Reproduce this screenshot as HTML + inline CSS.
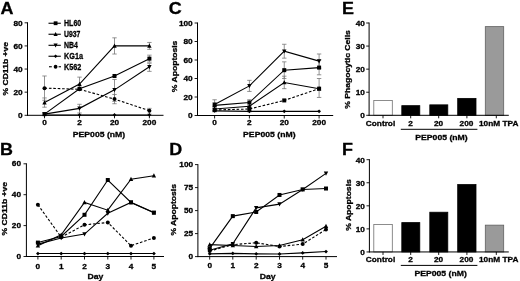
<!DOCTYPE html><html><head><meta charset="utf-8"><style>html,body{margin:0;padding:0;background:#fff}svg{display:block}</style></head><body><svg width="520" height="281" viewBox="0 0 520 281" font-family="Liberation Sans, Arial, sans-serif" font-weight="bold" fill="#000">
<defs><filter id="soft" x="0" y="0" width="520" height="281" filterUnits="userSpaceOnUse"><feGaussianBlur stdDeviation="0.35"/></filter></defs>
<rect width="520" height="281" fill="#fff"/>
<g filter="url(#soft)"><style>text{stroke:#000;stroke-width:0.3px}</style>
<text transform="translate(0.60,13.80) scale(1.10,1)" font-size="16.3" text-anchor="start">A</text>
<line x1="27.50" y1="22.30" x2="27.50" y2="115.80" stroke="#000" stroke-width="1.0" />
<line x1="27.00" y1="115.30" x2="163.50" y2="115.30" stroke="#000" stroke-width="1.0" />
<line x1="24.60" y1="115.30" x2="27.50" y2="115.30" stroke="#000" stroke-width="0.9" />
<text transform="translate(22.70,118.00) scale(1.09,1)" font-size="7.6" text-anchor="end">0</text>
<line x1="24.60" y1="92.17" x2="27.50" y2="92.17" stroke="#000" stroke-width="0.9" />
<text transform="translate(22.70,94.88) scale(1.09,1)" font-size="7.6" text-anchor="end">20</text>
<line x1="24.60" y1="69.05" x2="27.50" y2="69.05" stroke="#000" stroke-width="0.9" />
<text transform="translate(22.70,71.75) scale(1.09,1)" font-size="7.6" text-anchor="end">40</text>
<line x1="24.60" y1="45.92" x2="27.50" y2="45.92" stroke="#000" stroke-width="0.9" />
<text transform="translate(22.70,48.62) scale(1.09,1)" font-size="7.6" text-anchor="end">60</text>
<line x1="24.60" y1="22.80" x2="27.50" y2="22.80" stroke="#000" stroke-width="0.9" />
<text transform="translate(22.70,25.50) scale(1.09,1)" font-size="7.6" text-anchor="end">80</text>
<line x1="44.50" y1="115.30" x2="44.50" y2="118.30" stroke="#000" stroke-width="0.9" />
<line x1="79.50" y1="115.30" x2="79.50" y2="118.30" stroke="#000" stroke-width="0.9" />
<line x1="114.50" y1="115.30" x2="114.50" y2="118.30" stroke="#000" stroke-width="0.9" />
<line x1="149.40" y1="115.30" x2="149.40" y2="118.30" stroke="#000" stroke-width="0.9" />
<text transform="translate(44.50,125.00) scale(1.09,1)" font-size="7.6" text-anchor="middle">0</text>
<text transform="translate(79.50,125.00) scale(1.09,1)" font-size="7.6" text-anchor="middle">2</text>
<text transform="translate(114.50,125.00) scale(1.09,1)" font-size="7.6" text-anchor="middle">20</text>
<text transform="translate(149.40,125.00) scale(1.09,1)" font-size="7.6" text-anchor="middle">200</text>
<text transform="translate(8.00,68.75) rotate(-90) scale(1.1,1)" font-size="7.8" text-anchor="middle">% CD11b +ve</text>
<text transform="translate(99.00,137.30) scale(1.07,1)" font-size="8.1" text-anchor="middle">PEP005 (nM)</text>
<line x1="44.50" y1="75.99" x2="44.50" y2="100.27" stroke="#777" stroke-width="0.8" />
<line x1="42.30" y1="75.99" x2="46.70" y2="75.99" stroke="#777" stroke-width="0.8" />
<line x1="42.30" y1="100.27" x2="46.70" y2="100.27" stroke="#777" stroke-width="0.8" />
<line x1="44.50" y1="97.96" x2="44.50" y2="107.21" stroke="#777" stroke-width="0.8" />
<line x1="42.30" y1="97.96" x2="46.70" y2="97.96" stroke="#777" stroke-width="0.8" />
<line x1="42.30" y1="107.21" x2="46.70" y2="107.21" stroke="#777" stroke-width="0.8" />
<line x1="79.50" y1="77.14" x2="79.50" y2="89.86" stroke="#777" stroke-width="0.8" />
<line x1="77.30" y1="77.14" x2="81.70" y2="77.14" stroke="#777" stroke-width="0.8" />
<line x1="77.30" y1="89.86" x2="81.70" y2="89.86" stroke="#777" stroke-width="0.8" />
<line x1="79.50" y1="104.32" x2="79.50" y2="112.99" stroke="#777" stroke-width="0.8" />
<line x1="77.30" y1="104.32" x2="81.70" y2="104.32" stroke="#777" stroke-width="0.8" />
<line x1="77.30" y1="112.99" x2="81.70" y2="112.99" stroke="#777" stroke-width="0.8" />
<line x1="114.50" y1="37.83" x2="114.50" y2="54.02" stroke="#777" stroke-width="0.8" />
<line x1="112.30" y1="37.83" x2="116.70" y2="37.83" stroke="#777" stroke-width="0.8" />
<line x1="112.30" y1="54.02" x2="116.70" y2="54.02" stroke="#777" stroke-width="0.8" />
<line x1="114.50" y1="79.46" x2="114.50" y2="101.42" stroke="#777" stroke-width="0.8" />
<line x1="112.30" y1="79.46" x2="116.70" y2="79.46" stroke="#777" stroke-width="0.8" />
<line x1="112.30" y1="101.42" x2="116.70" y2="101.42" stroke="#777" stroke-width="0.8" />
<line x1="114.50" y1="94.49" x2="114.50" y2="103.74" stroke="#777" stroke-width="0.8" />
<line x1="112.30" y1="94.49" x2="116.70" y2="94.49" stroke="#777" stroke-width="0.8" />
<line x1="112.30" y1="103.74" x2="116.70" y2="103.74" stroke="#777" stroke-width="0.8" />
<line x1="149.40" y1="42.46" x2="149.40" y2="49.39" stroke="#777" stroke-width="0.8" />
<line x1="147.20" y1="42.46" x2="151.60" y2="42.46" stroke="#777" stroke-width="0.8" />
<line x1="147.20" y1="49.39" x2="151.60" y2="49.39" stroke="#777" stroke-width="0.8" />
<line x1="149.40" y1="55.17" x2="149.40" y2="62.11" stroke="#777" stroke-width="0.8" />
<line x1="147.20" y1="55.17" x2="151.60" y2="55.17" stroke="#777" stroke-width="0.8" />
<line x1="147.20" y1="62.11" x2="151.60" y2="62.11" stroke="#777" stroke-width="0.8" />
<line x1="149.40" y1="63.27" x2="149.40" y2="71.36" stroke="#777" stroke-width="0.8" />
<line x1="147.20" y1="63.27" x2="151.60" y2="63.27" stroke="#777" stroke-width="0.8" />
<line x1="147.20" y1="71.36" x2="151.60" y2="71.36" stroke="#777" stroke-width="0.8" />
<line x1="149.40" y1="108.36" x2="149.40" y2="114.14" stroke="#777" stroke-width="0.8" />
<line x1="147.20" y1="108.36" x2="151.60" y2="108.36" stroke="#777" stroke-width="0.8" />
<line x1="147.20" y1="114.14" x2="151.60" y2="114.14" stroke="#777" stroke-width="0.8" />
<polyline points="44.50,114.95 79.50,114.95 114.50,114.95 149.40,114.95" fill="none" stroke="#000" stroke-width="1.1"/>
<path d="M44.50,113.05 L46.40,114.95 L44.50,116.85 L42.60,114.95Z" fill="#000"/>
<path d="M79.50,113.05 L81.40,114.95 L79.50,116.85 L77.60,114.95Z" fill="#000"/>
<path d="M114.50,113.05 L116.40,114.95 L114.50,116.85 L112.60,114.95Z" fill="#000"/>
<path d="M149.40,113.05 L151.30,114.95 L149.40,116.85 L147.50,114.95Z" fill="#000"/>
<polyline points="44.50,88.13 79.50,89.28 114.50,99.11 149.40,110.67" fill="none" stroke="#000" stroke-width="1.1" stroke-dasharray="2.6,1.8"/>
<circle cx="44.50" cy="88.13" r="2.00" fill="#000"/>
<circle cx="79.50" cy="89.28" r="2.00" fill="#000"/>
<circle cx="114.50" cy="99.11" r="2.00" fill="#000"/>
<circle cx="149.40" cy="110.67" r="2.00" fill="#000"/>
<polyline points="44.50,114.14 79.50,108.36 114.50,89.86 149.40,66.74" fill="none" stroke="#000" stroke-width="1.1"/>
<path d="M44.50,116.54 L46.70,112.34 L42.30,112.34Z" fill="#000"/>
<path d="M79.50,110.76 L81.70,106.56 L77.30,106.56Z" fill="#000"/>
<path d="M114.50,92.26 L116.70,88.06 L112.30,88.06Z" fill="#000"/>
<path d="M149.40,69.14 L151.60,64.94 L147.20,64.94Z" fill="#000"/>
<polyline points="44.50,114.14 79.50,88.71 114.50,75.99 149.40,58.64" fill="none" stroke="#000" stroke-width="1.1"/>
<rect x="42.50" y="112.14" width="4.00" height="4.00" fill="#000"/>
<rect x="77.50" y="86.71" width="4.00" height="4.00" fill="#000"/>
<rect x="112.50" y="73.99" width="4.00" height="4.00" fill="#000"/>
<rect x="147.40" y="56.64" width="4.00" height="4.00" fill="#000"/>
<polyline points="44.50,102.58 79.50,84.08 114.50,45.92 149.40,45.92" fill="none" stroke="#000" stroke-width="1.1"/>
<path d="M44.50,100.18 L46.70,104.38 L42.30,104.38Z" fill="#000"/>
<path d="M79.50,81.68 L81.70,85.88 L77.30,85.88Z" fill="#000"/>
<path d="M114.50,43.52 L116.70,47.72 L112.30,47.72Z" fill="#000"/>
<path d="M149.40,43.52 L151.60,47.72 L147.20,47.72Z" fill="#000"/>
<line x1="48.50" y1="23.25" x2="60.80" y2="23.25" stroke="#000" stroke-width="1.1" />
<rect x="53.70" y="21.35" width="3.80" height="3.80" fill="#000"/>
<text x="64.00" y="26.25" font-size="9.0" text-anchor="start" textLength="17.3" lengthAdjust="spacingAndGlyphs">HL60</text>
<line x1="48.50" y1="34.25" x2="60.80" y2="34.25" stroke="#000" stroke-width="1.1" />
<path d="M55.60,31.95 L57.70,35.95 L53.50,35.95Z" fill="#000"/>
<text x="64.00" y="37.25" font-size="9.0" text-anchor="start" textLength="16.4" lengthAdjust="spacingAndGlyphs">U937</text>
<line x1="48.50" y1="45.30" x2="60.80" y2="45.30" stroke="#000" stroke-width="1.1" />
<path d="M55.60,47.60 L57.70,43.60 L53.50,43.60Z" fill="#000"/>
<text x="64.00" y="48.30" font-size="9.0" text-anchor="start" textLength="13.9" lengthAdjust="spacingAndGlyphs">NB4</text>
<line x1="48.50" y1="56.25" x2="60.80" y2="56.25" stroke="#000" stroke-width="1.1" />
<path d="M55.60,54.45 L57.41,56.25 L55.60,58.05 L53.80,56.25Z" fill="#000"/>
<text x="64.00" y="59.25" font-size="9.0" text-anchor="start" textLength="19.0" lengthAdjust="spacingAndGlyphs">KG1a</text>
<line x1="49.00" y1="66.75" x2="51.80" y2="66.75" stroke="#000" stroke-width="1.1" />
<line x1="58.60" y1="66.75" x2="61.00" y2="66.75" stroke="#000" stroke-width="1.1" />
<circle cx="55.60" cy="66.75" r="1.90" fill="#000"/>
<text x="64.00" y="69.75" font-size="9.0" text-anchor="start" textLength="17.3" lengthAdjust="spacingAndGlyphs">K562</text>
<text transform="translate(-0.10,154.70) scale(1.10,1)" font-size="16.3" text-anchor="start">B</text>
<line x1="26.40" y1="163.30" x2="26.40" y2="257.00" stroke="#000" stroke-width="1.0" />
<line x1="25.90" y1="256.50" x2="164.00" y2="256.50" stroke="#000" stroke-width="1.0" />
<line x1="23.50" y1="256.50" x2="26.40" y2="256.50" stroke="#000" stroke-width="0.9" />
<text transform="translate(21.00,259.05) scale(1.09,1)" font-size="7.6" text-anchor="end">0</text>
<line x1="23.50" y1="225.60" x2="26.40" y2="225.60" stroke="#000" stroke-width="0.9" />
<text transform="translate(21.00,228.15) scale(1.09,1)" font-size="7.6" text-anchor="end">20</text>
<line x1="23.50" y1="194.70" x2="26.40" y2="194.70" stroke="#000" stroke-width="0.9" />
<text transform="translate(21.00,197.25) scale(1.09,1)" font-size="7.6" text-anchor="end">40</text>
<line x1="23.50" y1="163.80" x2="26.40" y2="163.80" stroke="#000" stroke-width="0.9" />
<text transform="translate(21.00,166.35) scale(1.09,1)" font-size="7.6" text-anchor="end">60</text>
<line x1="37.90" y1="256.50" x2="37.90" y2="259.50" stroke="#000" stroke-width="0.9" />
<line x1="61.20" y1="256.50" x2="61.20" y2="259.50" stroke="#000" stroke-width="0.9" />
<line x1="84.50" y1="256.50" x2="84.50" y2="259.50" stroke="#000" stroke-width="0.9" />
<line x1="107.80" y1="256.50" x2="107.80" y2="259.50" stroke="#000" stroke-width="0.9" />
<line x1="131.00" y1="256.50" x2="131.00" y2="259.50" stroke="#000" stroke-width="0.9" />
<line x1="153.90" y1="256.50" x2="153.90" y2="259.50" stroke="#000" stroke-width="0.9" />
<text transform="translate(37.90,268.50) scale(1.09,1)" font-size="7.6" text-anchor="middle">0</text>
<text transform="translate(61.20,268.50) scale(1.09,1)" font-size="7.6" text-anchor="middle">1</text>
<text transform="translate(84.50,268.50) scale(1.09,1)" font-size="7.6" text-anchor="middle">2</text>
<text transform="translate(107.80,268.50) scale(1.09,1)" font-size="7.6" text-anchor="middle">3</text>
<text transform="translate(131.00,268.50) scale(1.09,1)" font-size="7.6" text-anchor="middle">4</text>
<text transform="translate(153.90,268.50) scale(1.09,1)" font-size="7.6" text-anchor="middle">5</text>
<text transform="translate(7.00,208.70) rotate(-90) scale(1.1,1)" font-size="7.8" text-anchor="middle">% CD11b +ve</text>
<text transform="translate(95.50,279.00) scale(1.07,1)" font-size="8.1" text-anchor="middle">Day</text>
<polyline points="37.90,253.56 61.20,253.56 84.50,253.56 107.80,253.56 131.00,253.56 153.90,253.56" fill="none" stroke="#000" stroke-width="1.1"/>
<path d="M37.90,251.66 L39.80,253.56 L37.90,255.46 L36.00,253.56Z" fill="#000"/>
<path d="M61.20,251.66 L63.10,253.56 L61.20,255.46 L59.30,253.56Z" fill="#000"/>
<path d="M84.50,251.66 L86.40,253.56 L84.50,255.46 L82.60,253.56Z" fill="#000"/>
<path d="M107.80,251.66 L109.70,253.56 L107.80,255.46 L105.90,253.56Z" fill="#000"/>
<path d="M131.00,251.66 L132.90,253.56 L131.00,255.46 L129.10,253.56Z" fill="#000"/>
<path d="M153.90,251.66 L155.80,253.56 L153.90,255.46 L152.00,253.56Z" fill="#000"/>
<polyline points="37.90,204.74 61.20,237.19 84.50,224.83 107.80,222.51 131.00,245.69 153.90,237.96" fill="none" stroke="#000" stroke-width="1.1" stroke-dasharray="2.6,1.8"/>
<circle cx="37.90" cy="204.74" r="2.00" fill="#000"/>
<circle cx="61.20" cy="237.19" r="2.00" fill="#000"/>
<circle cx="84.50" cy="224.83" r="2.00" fill="#000"/>
<circle cx="107.80" cy="222.51" r="2.00" fill="#000"/>
<circle cx="131.00" cy="245.69" r="2.00" fill="#000"/>
<circle cx="153.90" cy="237.96" r="2.00" fill="#000"/>
<polyline points="37.90,244.14 61.20,237.96 84.50,234.10 107.80,213.24 131.00,202.43 153.90,212.47" fill="none" stroke="#000" stroke-width="1.1"/>
<path d="M37.90,246.54 L40.10,242.34 L35.70,242.34Z" fill="#000"/>
<path d="M61.20,240.36 L63.40,236.16 L59.00,236.16Z" fill="#000"/>
<path d="M84.50,236.50 L86.70,232.30 L82.30,232.30Z" fill="#000"/>
<path d="M107.80,215.64 L110.00,211.44 L105.60,211.44Z" fill="#000"/>
<path d="M131.00,204.83 L133.20,200.62 L128.80,200.62Z" fill="#000"/>
<path d="M153.90,214.87 L156.10,210.67 L151.70,210.67Z" fill="#000"/>
<polyline points="37.90,245.69 61.20,234.87 84.50,202.43 107.80,210.15 131.00,179.25 153.90,175.70" fill="none" stroke="#000" stroke-width="1.1"/>
<path d="M37.90,243.28 L40.10,247.49 L35.70,247.49Z" fill="#000"/>
<path d="M61.20,232.47 L63.40,236.67 L59.00,236.67Z" fill="#000"/>
<path d="M84.50,200.03 L86.70,204.23 L82.30,204.23Z" fill="#000"/>
<path d="M107.80,207.75 L110.00,211.95 L105.60,211.95Z" fill="#000"/>
<path d="M131.00,176.85 L133.20,181.05 L128.80,181.05Z" fill="#000"/>
<path d="M153.90,173.30 L156.10,177.50 L151.70,177.50Z" fill="#000"/>
<polyline points="37.90,242.59 61.20,236.41 84.50,214.79 107.80,180.02 131.00,202.43 153.90,212.78" fill="none" stroke="#000" stroke-width="1.1"/>
<rect x="35.90" y="240.59" width="4.00" height="4.00" fill="#000"/>
<rect x="59.20" y="234.41" width="4.00" height="4.00" fill="#000"/>
<rect x="82.50" y="212.79" width="4.00" height="4.00" fill="#000"/>
<rect x="105.80" y="178.02" width="4.00" height="4.00" fill="#000"/>
<rect x="129.00" y="200.43" width="4.00" height="4.00" fill="#000"/>
<rect x="151.90" y="210.78" width="4.00" height="4.00" fill="#000"/>
<text transform="translate(168.70,14.20) scale(1.10,1)" font-size="16.3" text-anchor="start">C</text>
<line x1="197.50" y1="22.50" x2="197.50" y2="116.00" stroke="#000" stroke-width="1.0" />
<line x1="197.00" y1="115.50" x2="333.20" y2="115.50" stroke="#000" stroke-width="1.0" />
<line x1="194.60" y1="115.50" x2="197.50" y2="115.50" stroke="#000" stroke-width="0.9" />
<text transform="translate(192.70,118.25) scale(1.09,1)" font-size="7.6" text-anchor="end">0</text>
<line x1="194.60" y1="97.00" x2="197.50" y2="97.00" stroke="#000" stroke-width="0.9" />
<text transform="translate(192.70,99.75) scale(1.09,1)" font-size="7.6" text-anchor="end">20</text>
<line x1="194.60" y1="78.50" x2="197.50" y2="78.50" stroke="#000" stroke-width="0.9" />
<text transform="translate(192.70,81.25) scale(1.09,1)" font-size="7.6" text-anchor="end">40</text>
<line x1="194.60" y1="60.00" x2="197.50" y2="60.00" stroke="#000" stroke-width="0.9" />
<text transform="translate(192.70,62.75) scale(1.09,1)" font-size="7.6" text-anchor="end">60</text>
<line x1="194.60" y1="41.50" x2="197.50" y2="41.50" stroke="#000" stroke-width="0.9" />
<text transform="translate(192.70,44.25) scale(1.09,1)" font-size="7.6" text-anchor="end">80</text>
<line x1="194.60" y1="23.00" x2="197.50" y2="23.00" stroke="#000" stroke-width="0.9" />
<text transform="translate(192.70,25.75) scale(1.09,1)" font-size="7.6" text-anchor="end">100</text>
<line x1="214.60" y1="115.50" x2="214.60" y2="118.50" stroke="#000" stroke-width="0.9" />
<line x1="249.40" y1="115.50" x2="249.40" y2="118.50" stroke="#000" stroke-width="0.9" />
<line x1="284.25" y1="115.50" x2="284.25" y2="118.50" stroke="#000" stroke-width="0.9" />
<line x1="319.10" y1="115.50" x2="319.10" y2="118.50" stroke="#000" stroke-width="0.9" />
<text transform="translate(214.60,125.00) scale(1.09,1)" font-size="7.6" text-anchor="middle">0</text>
<text transform="translate(249.40,125.00) scale(1.09,1)" font-size="7.6" text-anchor="middle">2</text>
<text transform="translate(284.25,125.00) scale(1.09,1)" font-size="7.6" text-anchor="middle">20</text>
<text transform="translate(319.10,125.00) scale(1.09,1)" font-size="7.6" text-anchor="middle">200</text>
<text transform="translate(176.90,66.40) rotate(-90) scale(1.1,1)" font-size="7.8" text-anchor="middle">% Apoptosis</text>
<text transform="translate(269.30,137.10) scale(1.07,1)" font-size="8.1" text-anchor="middle">PEP005 (nM)</text>
<line x1="214.60" y1="99.78" x2="214.60" y2="108.10" stroke="#777" stroke-width="0.8" />
<line x1="212.40" y1="99.78" x2="216.80" y2="99.78" stroke="#777" stroke-width="0.8" />
<line x1="212.40" y1="108.10" x2="216.80" y2="108.10" stroke="#777" stroke-width="0.8" />
<line x1="214.60" y1="106.25" x2="214.60" y2="111.80" stroke="#777" stroke-width="0.8" />
<line x1="212.40" y1="106.25" x2="216.80" y2="106.25" stroke="#777" stroke-width="0.8" />
<line x1="212.40" y1="111.80" x2="216.80" y2="111.80" stroke="#777" stroke-width="0.8" />
<line x1="249.40" y1="80.35" x2="249.40" y2="91.45" stroke="#777" stroke-width="0.8" />
<line x1="247.20" y1="80.35" x2="251.60" y2="80.35" stroke="#777" stroke-width="0.8" />
<line x1="247.20" y1="91.45" x2="251.60" y2="91.45" stroke="#777" stroke-width="0.8" />
<line x1="249.40" y1="99.78" x2="249.40" y2="105.33" stroke="#777" stroke-width="0.8" />
<line x1="247.20" y1="99.78" x2="251.60" y2="99.78" stroke="#777" stroke-width="0.8" />
<line x1="247.20" y1="105.33" x2="251.60" y2="105.33" stroke="#777" stroke-width="0.8" />
<line x1="249.40" y1="106.25" x2="249.40" y2="111.80" stroke="#777" stroke-width="0.8" />
<line x1="247.20" y1="106.25" x2="251.60" y2="106.25" stroke="#777" stroke-width="0.8" />
<line x1="247.20" y1="111.80" x2="251.60" y2="111.80" stroke="#777" stroke-width="0.8" />
<line x1="284.25" y1="44.27" x2="284.25" y2="58.15" stroke="#777" stroke-width="0.8" />
<line x1="282.05" y1="44.27" x2="286.45" y2="44.27" stroke="#777" stroke-width="0.8" />
<line x1="282.05" y1="58.15" x2="286.45" y2="58.15" stroke="#777" stroke-width="0.8" />
<line x1="284.25" y1="61.85" x2="284.25" y2="78.50" stroke="#777" stroke-width="0.8" />
<line x1="282.05" y1="61.85" x2="286.45" y2="61.85" stroke="#777" stroke-width="0.8" />
<line x1="282.05" y1="78.50" x2="286.45" y2="78.50" stroke="#777" stroke-width="0.8" />
<line x1="284.25" y1="76.19" x2="284.25" y2="88.67" stroke="#777" stroke-width="0.8" />
<line x1="282.05" y1="76.19" x2="286.45" y2="76.19" stroke="#777" stroke-width="0.8" />
<line x1="282.05" y1="88.67" x2="286.45" y2="88.67" stroke="#777" stroke-width="0.8" />
<line x1="319.10" y1="53.99" x2="319.10" y2="68.32" stroke="#777" stroke-width="0.8" />
<line x1="316.90" y1="53.99" x2="321.30" y2="53.99" stroke="#777" stroke-width="0.8" />
<line x1="316.90" y1="68.32" x2="321.30" y2="68.32" stroke="#777" stroke-width="0.8" />
<line x1="319.10" y1="60.00" x2="319.10" y2="74.80" stroke="#777" stroke-width="0.8" />
<line x1="316.90" y1="60.00" x2="321.30" y2="60.00" stroke="#777" stroke-width="0.8" />
<line x1="316.90" y1="74.80" x2="321.30" y2="74.80" stroke="#777" stroke-width="0.8" />
<line x1="319.10" y1="78.50" x2="319.10" y2="97.46" stroke="#777" stroke-width="0.8" />
<line x1="316.90" y1="78.50" x2="321.30" y2="78.50" stroke="#777" stroke-width="0.8" />
<line x1="316.90" y1="97.46" x2="321.30" y2="97.46" stroke="#777" stroke-width="0.8" />
<polyline points="214.60,110.88 249.40,111.34 284.25,111.34 319.10,111.34" fill="none" stroke="#000" stroke-width="1.1"/>
<path d="M214.60,108.97 L216.50,110.88 L214.60,112.78 L212.70,110.88Z" fill="#000"/>
<path d="M249.40,109.44 L251.30,111.34 L249.40,113.24 L247.50,111.34Z" fill="#000"/>
<path d="M284.25,109.44 L286.15,111.34 L284.25,113.24 L282.35,111.34Z" fill="#000"/>
<path d="M319.10,109.44 L321.00,111.34 L319.10,113.24 L317.20,111.34Z" fill="#000"/>
<polyline points="214.60,109.03 249.40,106.25 284.25,82.57 319.10,88.67" fill="none" stroke="#000" stroke-width="1.1"/>
<path d="M214.60,106.62 L216.80,110.83 L212.40,110.83Z" fill="#000"/>
<path d="M249.40,103.85 L251.60,108.05 L247.20,108.05Z" fill="#000"/>
<path d="M284.25,80.17 L286.45,84.37 L282.05,84.37Z" fill="#000"/>
<path d="M319.10,86.27 L321.30,90.47 L316.90,90.47Z" fill="#000"/>
<polyline points="214.60,109.95 249.40,109.03 284.25,100.42 319.10,88.67" fill="none" stroke="#000" stroke-width="1.1" stroke-dasharray="2.6,1.8"/>
<rect x="212.60" y="107.95" width="4.00" height="4.00" fill="#000"/>
<rect x="247.40" y="107.03" width="4.00" height="4.00" fill="#000"/>
<rect x="282.25" y="98.42" width="4.00" height="4.00" fill="#000"/>
<rect x="317.10" y="86.67" width="4.00" height="4.00" fill="#000"/>
<polyline points="214.60,105.33 249.40,102.55 284.25,70.17 319.10,67.59" fill="none" stroke="#000" stroke-width="1.1"/>
<rect x="212.60" y="103.33" width="4.00" height="4.00" fill="#000"/>
<rect x="247.40" y="100.55" width="4.00" height="4.00" fill="#000"/>
<rect x="282.25" y="68.17" width="4.00" height="4.00" fill="#000"/>
<rect x="317.10" y="65.59" width="4.00" height="4.00" fill="#000"/>
<polyline points="214.60,104.40 249.40,85.90 284.25,51.21 319.10,61.11" fill="none" stroke="#000" stroke-width="1.1"/>
<path d="M214.60,106.80 L216.80,102.60 L212.40,102.60Z" fill="#000"/>
<path d="M249.40,88.30 L251.60,84.10 L247.20,84.10Z" fill="#000"/>
<path d="M284.25,53.61 L286.45,49.41 L282.05,49.41Z" fill="#000"/>
<path d="M319.10,63.51 L321.30,59.31 L316.90,59.31Z" fill="#000"/>
<text transform="translate(169.20,154.90) scale(1.10,1)" font-size="16.3" text-anchor="start">D</text>
<line x1="197.90" y1="164.10" x2="197.90" y2="257.10" stroke="#000" stroke-width="1.0" />
<line x1="197.40" y1="256.60" x2="337.00" y2="256.60" stroke="#000" stroke-width="1.0" />
<line x1="195.00" y1="256.60" x2="197.90" y2="256.60" stroke="#000" stroke-width="0.9" />
<text transform="translate(193.10,259.35) scale(1.09,1)" font-size="7.6" text-anchor="end">0</text>
<line x1="195.00" y1="233.60" x2="197.90" y2="233.60" stroke="#000" stroke-width="0.9" />
<text transform="translate(193.10,236.35) scale(1.09,1)" font-size="7.6" text-anchor="end">25</text>
<line x1="195.00" y1="210.60" x2="197.90" y2="210.60" stroke="#000" stroke-width="0.9" />
<text transform="translate(193.10,213.35) scale(1.09,1)" font-size="7.6" text-anchor="end">50</text>
<line x1="195.00" y1="187.60" x2="197.90" y2="187.60" stroke="#000" stroke-width="0.9" />
<text transform="translate(193.10,190.35) scale(1.09,1)" font-size="7.6" text-anchor="end">75</text>
<line x1="195.00" y1="164.60" x2="197.90" y2="164.60" stroke="#000" stroke-width="0.9" />
<text transform="translate(193.10,167.35) scale(1.09,1)" font-size="7.6" text-anchor="end">100</text>
<line x1="209.70" y1="256.60" x2="209.70" y2="259.60" stroke="#000" stroke-width="0.9" />
<line x1="232.80" y1="256.60" x2="232.80" y2="259.60" stroke="#000" stroke-width="0.9" />
<line x1="256.20" y1="256.60" x2="256.20" y2="259.60" stroke="#000" stroke-width="0.9" />
<line x1="279.50" y1="256.60" x2="279.50" y2="259.60" stroke="#000" stroke-width="0.9" />
<line x1="302.70" y1="256.60" x2="302.70" y2="259.60" stroke="#000" stroke-width="0.9" />
<line x1="326.00" y1="256.60" x2="326.00" y2="259.60" stroke="#000" stroke-width="0.9" />
<text transform="translate(209.70,268.20) scale(1.09,1)" font-size="7.6" text-anchor="middle">0</text>
<text transform="translate(232.80,268.20) scale(1.09,1)" font-size="7.6" text-anchor="middle">1</text>
<text transform="translate(256.20,268.20) scale(1.09,1)" font-size="7.6" text-anchor="middle">2</text>
<text transform="translate(279.50,268.20) scale(1.09,1)" font-size="7.6" text-anchor="middle">3</text>
<text transform="translate(302.70,268.20) scale(1.09,1)" font-size="7.6" text-anchor="middle">4</text>
<text transform="translate(326.00,268.20) scale(1.09,1)" font-size="7.6" text-anchor="middle">5</text>
<text transform="translate(175.70,209.80) rotate(-90) scale(1.1,1)" font-size="7.8" text-anchor="middle">% Apoptosis</text>
<text transform="translate(267.70,278.60) scale(1.07,1)" font-size="8.1" text-anchor="middle">Day</text>
<polyline points="209.70,253.84 232.80,253.38 256.20,253.84 279.50,254.02 302.70,252.92 326.00,251.54" fill="none" stroke="#000" stroke-width="1.1"/>
<path d="M209.70,251.94 L211.60,253.84 L209.70,255.74 L207.80,253.84Z" fill="#000"/>
<path d="M232.80,251.48 L234.70,253.38 L232.80,255.28 L230.90,253.38Z" fill="#000"/>
<path d="M256.20,251.94 L258.10,253.84 L256.20,255.74 L254.30,253.84Z" fill="#000"/>
<path d="M279.50,252.12 L281.40,254.02 L279.50,255.92 L277.60,254.02Z" fill="#000"/>
<path d="M302.70,251.02 L304.60,252.92 L302.70,254.82 L300.80,252.92Z" fill="#000"/>
<path d="M326.00,249.64 L327.90,251.54 L326.00,253.44 L324.10,251.54Z" fill="#000"/>
<polyline points="209.70,251.08 232.80,244.64 256.20,242.80 279.50,246.48 302.70,244.09 326.00,229.46" fill="none" stroke="#000" stroke-width="1.1" stroke-dasharray="2.6,1.8"/>
<circle cx="209.70" cy="251.08" r="2.00" fill="#000"/>
<circle cx="232.80" cy="244.64" r="2.00" fill="#000"/>
<circle cx="256.20" cy="242.80" r="2.00" fill="#000"/>
<circle cx="279.50" cy="246.48" r="2.00" fill="#000"/>
<circle cx="302.70" cy="244.09" r="2.00" fill="#000"/>
<circle cx="326.00" cy="229.46" r="2.00" fill="#000"/>
<polyline points="209.70,244.64 232.80,245.56 256.20,246.48 279.50,245.56 302.70,239.76 326.00,226.24" fill="none" stroke="#000" stroke-width="1.1"/>
<path d="M209.70,242.24 L211.90,246.44 L207.50,246.44Z" fill="#000"/>
<path d="M232.80,243.16 L235.00,247.36 L230.60,247.36Z" fill="#000"/>
<path d="M256.20,244.08 L258.40,248.28 L254.00,248.28Z" fill="#000"/>
<path d="M279.50,243.16 L281.70,247.36 L277.30,247.36Z" fill="#000"/>
<path d="M302.70,237.36 L304.90,241.56 L300.50,241.56Z" fill="#000"/>
<path d="M326.00,223.84 L328.20,228.04 L323.80,228.04Z" fill="#000"/>
<polyline points="209.70,248.32 232.80,216.12 256.20,211.98 279.50,194.96 302.70,189.44 326.00,188.52" fill="none" stroke="#000" stroke-width="1.1"/>
<rect x="207.70" y="246.32" width="4.00" height="4.00" fill="#000"/>
<rect x="230.80" y="214.12" width="4.00" height="4.00" fill="#000"/>
<rect x="254.20" y="209.98" width="4.00" height="4.00" fill="#000"/>
<rect x="277.50" y="192.96" width="4.00" height="4.00" fill="#000"/>
<rect x="300.70" y="187.44" width="4.00" height="4.00" fill="#000"/>
<rect x="324.00" y="186.52" width="4.00" height="4.00" fill="#000"/>
<polyline points="209.70,250.16 232.80,243.72 256.20,207.84 279.50,204.16 302.70,189.44 326.00,173.34" fill="none" stroke="#000" stroke-width="1.1"/>
<path d="M209.70,252.56 L211.90,248.36 L207.50,248.36Z" fill="#000"/>
<path d="M232.80,246.12 L235.00,241.92 L230.60,241.92Z" fill="#000"/>
<path d="M256.20,210.24 L258.40,206.04 L254.00,206.04Z" fill="#000"/>
<path d="M279.50,206.56 L281.70,202.36 L277.30,202.36Z" fill="#000"/>
<path d="M302.70,191.84 L304.90,187.64 L300.50,187.64Z" fill="#000"/>
<path d="M326.00,175.74 L328.20,171.54 L323.80,171.54Z" fill="#000"/>
<text transform="translate(341.90,13.50) scale(1.10,1)" font-size="16.3" text-anchor="start">E</text>
<rect x="373.80" y="100.47" width="18.50" height="14.83" fill="#fff" stroke="#707070" stroke-width="0.8"/>
<rect x="401.80" y="105.66" width="18.00" height="9.64" fill="#000" stroke="#000" stroke-width="0.8"/>
<rect x="429.80" y="104.85" width="18.00" height="10.45" fill="#000" stroke="#000" stroke-width="0.8"/>
<rect x="457.70" y="98.39" width="18.30" height="16.91" fill="#000" stroke="#000" stroke-width="0.8"/>
<rect x="485.30" y="26.63" width="18.40" height="88.67" fill="#9a9a9a" stroke="#606060" stroke-width="0.8"/>
<line x1="369.10" y1="22.50" x2="369.10" y2="115.80" stroke="#000" stroke-width="1.0" />
<line x1="368.60" y1="115.30" x2="508.80" y2="115.30" stroke="#000" stroke-width="1.0" />
<line x1="366.20" y1="115.30" x2="369.10" y2="115.30" stroke="#000" stroke-width="0.9" />
<text transform="translate(364.90,117.90) scale(1.09,1)" font-size="7.6" text-anchor="end">0</text>
<line x1="366.20" y1="92.22" x2="369.10" y2="92.22" stroke="#000" stroke-width="0.9" />
<text transform="translate(364.90,94.82) scale(1.09,1)" font-size="7.6" text-anchor="end">10</text>
<line x1="366.20" y1="69.15" x2="369.10" y2="69.15" stroke="#000" stroke-width="0.9" />
<text transform="translate(364.90,71.75) scale(1.09,1)" font-size="7.6" text-anchor="end">20</text>
<line x1="366.20" y1="46.07" x2="369.10" y2="46.07" stroke="#000" stroke-width="0.9" />
<text transform="translate(364.90,48.67) scale(1.09,1)" font-size="7.6" text-anchor="end">30</text>
<line x1="366.20" y1="23.00" x2="369.10" y2="23.00" stroke="#000" stroke-width="0.9" />
<text transform="translate(364.90,25.60) scale(1.09,1)" font-size="7.6" text-anchor="end">40</text>
<line x1="383.00" y1="115.30" x2="383.00" y2="118.30" stroke="#000" stroke-width="0.9" />
<line x1="410.70" y1="115.30" x2="410.70" y2="118.30" stroke="#000" stroke-width="0.9" />
<line x1="438.70" y1="115.30" x2="438.70" y2="118.30" stroke="#000" stroke-width="0.9" />
<line x1="466.90" y1="115.30" x2="466.90" y2="118.30" stroke="#000" stroke-width="0.9" />
<line x1="496.30" y1="115.30" x2="496.30" y2="118.30" stroke="#000" stroke-width="0.9" />
<text transform="translate(380.50,125.90) scale(1.09,1)" font-size="7.6" text-anchor="middle">Control</text>
<text transform="translate(410.50,125.90) scale(1.09,1)" font-size="7.6" text-anchor="middle">2</text>
<text transform="translate(438.50,125.90) scale(1.09,1)" font-size="7.6" text-anchor="middle">20</text>
<text transform="translate(466.50,125.90) scale(1.09,1)" font-size="7.6" text-anchor="middle">200</text>
<text transform="translate(498.70,125.90) scale(1.09,1)" font-size="7.6" text-anchor="middle">10nM TPA</text>
<line x1="400.80" y1="129.30" x2="477.40" y2="129.30" stroke="#000" stroke-width="1.0" />
<text transform="translate(441.50,139.60) scale(1.07,1)" font-size="8.1" text-anchor="middle">PEP005 (nM)</text>
<text transform="translate(350.00,69.50) rotate(-90) scale(1.1,1)" font-size="7.8" text-anchor="middle">% Phagocytic Cells</text>
<text transform="translate(341.90,154.90) scale(1.10,1)" font-size="16.3" text-anchor="start">F</text>
<rect x="373.80" y="224.44" width="18.50" height="27.51" fill="#fff" stroke="#707070" stroke-width="0.8"/>
<rect x="401.80" y="222.60" width="18.00" height="29.35" fill="#000" stroke="#000" stroke-width="0.8"/>
<rect x="429.80" y="212.22" width="18.00" height="39.73" fill="#000" stroke="#000" stroke-width="0.8"/>
<rect x="457.70" y="184.55" width="18.30" height="67.40" fill="#000" stroke="#000" stroke-width="0.8"/>
<rect x="485.30" y="225.14" width="18.40" height="26.81" fill="#9a9a9a" stroke="#606060" stroke-width="0.8"/>
<line x1="369.40" y1="159.20" x2="369.40" y2="252.45" stroke="#000" stroke-width="1.0" />
<line x1="368.90" y1="251.95" x2="508.80" y2="251.95" stroke="#000" stroke-width="1.0" />
<line x1="366.50" y1="251.95" x2="369.40" y2="251.95" stroke="#000" stroke-width="0.9" />
<text transform="translate(364.90,254.80) scale(1.09,1)" font-size="7.6" text-anchor="end">0</text>
<line x1="366.50" y1="228.89" x2="369.40" y2="228.89" stroke="#000" stroke-width="0.9" />
<text transform="translate(364.90,231.74) scale(1.09,1)" font-size="7.6" text-anchor="end">10</text>
<line x1="366.50" y1="205.82" x2="369.40" y2="205.82" stroke="#000" stroke-width="0.9" />
<text transform="translate(364.90,208.67) scale(1.09,1)" font-size="7.6" text-anchor="end">20</text>
<line x1="366.50" y1="182.76" x2="369.40" y2="182.76" stroke="#000" stroke-width="0.9" />
<text transform="translate(364.90,185.61) scale(1.09,1)" font-size="7.6" text-anchor="end">30</text>
<line x1="366.50" y1="159.70" x2="369.40" y2="159.70" stroke="#000" stroke-width="0.9" />
<text transform="translate(364.90,162.55) scale(1.09,1)" font-size="7.6" text-anchor="end">40</text>
<line x1="383.00" y1="251.95" x2="383.00" y2="254.95" stroke="#000" stroke-width="0.9" />
<line x1="410.70" y1="251.95" x2="410.70" y2="254.95" stroke="#000" stroke-width="0.9" />
<line x1="438.70" y1="251.95" x2="438.70" y2="254.95" stroke="#000" stroke-width="0.9" />
<line x1="466.90" y1="251.95" x2="466.90" y2="254.95" stroke="#000" stroke-width="0.9" />
<line x1="496.30" y1="251.95" x2="496.30" y2="254.95" stroke="#000" stroke-width="0.9" />
<text transform="translate(380.50,261.60) scale(1.09,1)" font-size="7.6" text-anchor="middle">Control</text>
<text transform="translate(410.50,261.60) scale(1.09,1)" font-size="7.6" text-anchor="middle">2</text>
<text transform="translate(438.50,261.60) scale(1.09,1)" font-size="7.6" text-anchor="middle">20</text>
<text transform="translate(466.50,261.60) scale(1.09,1)" font-size="7.6" text-anchor="middle">200</text>
<text transform="translate(498.70,261.60) scale(1.09,1)" font-size="7.6" text-anchor="middle">10nM TPA</text>
<line x1="400.80" y1="265.40" x2="477.40" y2="265.40" stroke="#000" stroke-width="1.0" />
<text transform="translate(440.60,276.30) scale(1.07,1)" font-size="8.1" text-anchor="middle">PEP005 (nM)</text>
<text transform="translate(350.80,205.00) rotate(-90) scale(1.1,1)" font-size="7.8" text-anchor="middle">% Apoptosis</text>
</g></svg></body></html>
